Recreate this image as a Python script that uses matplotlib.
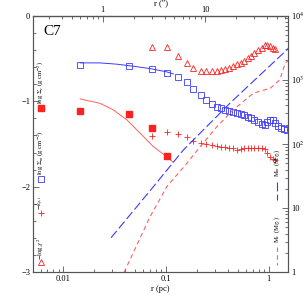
import numpy as np
import matplotlib
matplotlib.use('Agg')
import matplotlib.pyplot as plt
from matplotlib.ticker import FixedLocator, NullFormatter, LogLocator

plt.rcParams['font.family'] = ['Liberation Serif', 'DejaVu Serif']
plt.rcParams['mathtext.fontset'] = 'stix'

# pc per arcsec (d ~ 5 kpc)
pcPerArcsec = 0.02424

# radial grid (pc) shared by the profile points
rGrid = [0.073, 0.102, 0.131, 0.160, 0.185, 0.219, 0.247, 0.281, 0.314, 0.346,
         0.379, 0.414, 0.453, 0.496, 0.538, 0.583, 0.630, 0.678, 0.730, 0.789,
         0.869, 0.929, 0.977, 1.04, 1.104, 1.162]

# log Sigma_m (blue open squares)
rSigM = [0.0146, 0.0437] + rGrid + [1.236, 1.32, 1.40, 1.51]
sigM = [-0.573, -0.588,
        -0.623, -0.667, -0.720, -0.772, -0.861, -0.927, -0.986, -1.032, -1.067, -1.083,
        -1.099, -1.114, -1.126, -1.138, -1.149, -1.165, -1.181, -1.200, -1.223, -1.247,
        -1.263, -1.278, -1.247, -1.223, -1.220, -1.258,
        -1.290, -1.310, -1.321, -1.340]

# blue fit line
rFitM = [0.0146, 0.0228, 0.0332, 0.0483, 0.0702, 0.102, 0.118]
fitM = [-0.553, -0.553, -0.568, -0.592, -0.620, -0.658, -0.682]

# log Sigma_c (red filled squares) + fit
rSigC = [0.0146, 0.0437, 0.073, 0.102]
sigC = [-1.118, -1.146, -1.310, -1.640]
rFitC = [0.0146, 0.0228, 0.0308, 0.0418, 0.0563, 0.0757, 0.102, 0.118]
fitC = [-0.974, -1.025, -1.103, -1.220, -1.376, -1.532, -1.649, -1.715]

# -k (red plus)
kVals = [-1.403, -1.364, -1.387, -1.422, -1.462, -1.485, -1.500, -1.516, -1.525, -1.530,
         -1.540, -1.550, -1.550, -1.565, -1.560, -1.545, -1.545, -1.545, -1.550, -1.550,
         -1.550, -1.560, -1.610, -1.650, -1.676, -1.690]

# -log chi^2 (red open triangles)
chiVals = [-0.362, -0.362, -0.471, -0.549, -0.615, -0.643, -0.647, -0.643, -0.643, -0.635,
           -0.623, -0.608, -0.588, -0.568, -0.553, -0.530, -0.498, -0.468, -0.433, -0.401,
           -0.374, -0.346, -0.339, -0.354, -0.374, -0.393]

# masses (right axis)
rMm = [0.0292, 0.0701, 0.148, 0.423, 1.51, 1.57]
Mm = [3.46, 18.7, 80.6, 435, 2920, 3150]
rMc = [0.0391, 0.0701, 0.102, 0.160, 0.216, 0.314, 0.453, 0.71, 1.04, 1.29, 1.45, 1.57]
Mc = [1.0, 7.36, 21.6, 50, 90.8, 186, 339, 617, 738, 1000, 1811, 2000]

blue = '#3a3aff'
red = '#ff2020'
lred = '#ff6060'
frame = '#555555'

fig = plt.figure(figsize=(3.05, 3.05), dpi=100)
ax = fig.add_axes([0.108, 0.107, 0.837, 0.842])

ax.plot(rFitM, fitM, '-', color=blue, lw=0.7)
ax.plot(rFitC, fitC, '-', color=lred, lw=0.7)
ax.plot(rSigM, sigM, 's', mfc='none', mec=blue, ms=4.6, mew=0.6)
ax.plot(rSigC, sigC, 's', color=red, ms=3.8)
ax.plot(rGrid, kVals, '+', color=red, ms=5, mew=0.6)
ax.plot(rGrid, chiVals, '^', mfc='none', mec=red, ms=4.6, mew=0.6)

ax.set_xscale('log')
ax.set_xlim(0.00506, 1.556)
ax.set_ylim(-3, 0)
ax.set_xticks([0.01, 0.1, 1])
ax.set_xticklabels(['0.01', '0.1', '1'])
ax.set_yticks([0, -1, -2, -3])
ax.set_yticklabels(['0', '\u22121', '\u22122', '\u22123'])
ax.yaxis.set_minor_locator(FixedLocator(np.arange(-3, 0.01, 0.2)))
ax.set_xlabel('r (pc)', fontsize=6, labelpad=1)

ax.tick_params(which='both', direction='in', colors=frame, labelcolor='black',
               labelsize=6, width=0.6)
ax.tick_params(which='major', length=4, pad=2, top=False, right=False)
ax.tick_params(which='minor', length=2.5, top=False, right=False)

# top axis in arcsec
sec = ax.secondary_xaxis('top', functions=(lambda r: r / pcPerArcsec,
                                           lambda a: a * pcPerArcsec))
sec.set_xticks([1, 10])
sec.set_xticklabels(['1', '10'])
sec.tick_params(which='both', direction='in', colors=frame, labelcolor='black',
                labelsize=6, width=0.6)
sec.tick_params(which='major', length=4, pad=1)
sec.tick_params(which='minor', length=2.5)
sec.set_xlabel('r (\u2033)', fontsize=6, labelpad=1)

# right axis: masses
ax2 = ax.twinx()
ax2.plot(rMm, Mm, color=blue, lw=0.8, dashes=(8, 3))
ax2.plot(rMc, Mc, color=lred, lw=0.8, dashes=(4, 3))
ax2.set_yscale('log')
ax2.set_ylim(1, 1e4)
ax2.set_yticks([1, 10, 100, 1000, 10000])
ax2.set_yticklabels(['1', '10', '10$^2$', '10$^3$', '10$^4$'])
ax2.yaxis.set_minor_locator(LogLocator(base=10, subs=np.arange(2, 10)))
ax2.yaxis.set_minor_formatter(NullFormatter())
ax2.tick_params(which='both', direction='in', colors=frame, labelcolor='black',
                labelsize=6, width=0.6)
ax2.tick_params(which='major', length=4, pad=2)
ax2.tick_params(which='minor', length=2.5)

for a in (ax, ax2):
    for s in a.spines.values():
        s.set_color(frame)
        s.set_linewidth(0.8)

# panel label
ax.text(0.04, 0.964, 'C7', transform=ax.transAxes, fontsize=11, ha='left', va='top')

# left-side keys
tr = ax.transAxes
kfs = 4.8
ax.plot([0.031], [0.639], 's', color=red, ms=3.8, transform=tr)
ax.text(0.031, 0.656, r'log $\Sigma_c$ (g cm$^{-2}$)', transform=tr, rotation=90,
        ha='center', va='bottom', fontsize=kfs)
ax.plot([0.031], [0.364], 's', mfc='none', mec=blue, ms=4.6, mew=0.6, transform=tr)
ax.text(0.031, 0.378, r'log $\Sigma_m$ (g cm$^{-2}$)', transform=tr, rotation=90,
        ha='center', va='bottom', fontsize=kfs)
ax.plot([0.031], [0.23], '+', color=red, ms=5, mew=0.6, transform=tr)
ax.text(0.031, 0.243, r'$-k_{\rho,t}$', transform=tr, rotation=90,
        ha='center', va='bottom', fontsize=kfs)
ax.plot([0.031], [0.039], '^', mfc='none', mec=red, ms=4.6, mew=0.6, transform=tr)
ax.text(0.031, 0.048, r'$-$log $\chi^2$', transform=tr, rotation=90,
        ha='center', va='bottom', fontsize=kfs)

# right-side keys
ax.text(0.956, 0.371, r'M$_m$ (M$_\odot$)', transform=tr, rotation=90,
        ha='center', va='bottom', fontsize=kfs)
ax.plot([0.956, 0.956], [0.353, 0.282], color=blue, lw=0.8, dashes=(8, 3), transform=tr)
ax.text(0.956, 0.114, r'M$_c$ (M$_\odot$)', transform=tr, rotation=90,
        ha='center', va='bottom', fontsize=kfs)
ax.plot([0.956, 0.956], [0.1, 0.028], color=lred, lw=0.8, dashes=(4, 3), transform=tr)

fig.savefig('out.png', dpi=100)
